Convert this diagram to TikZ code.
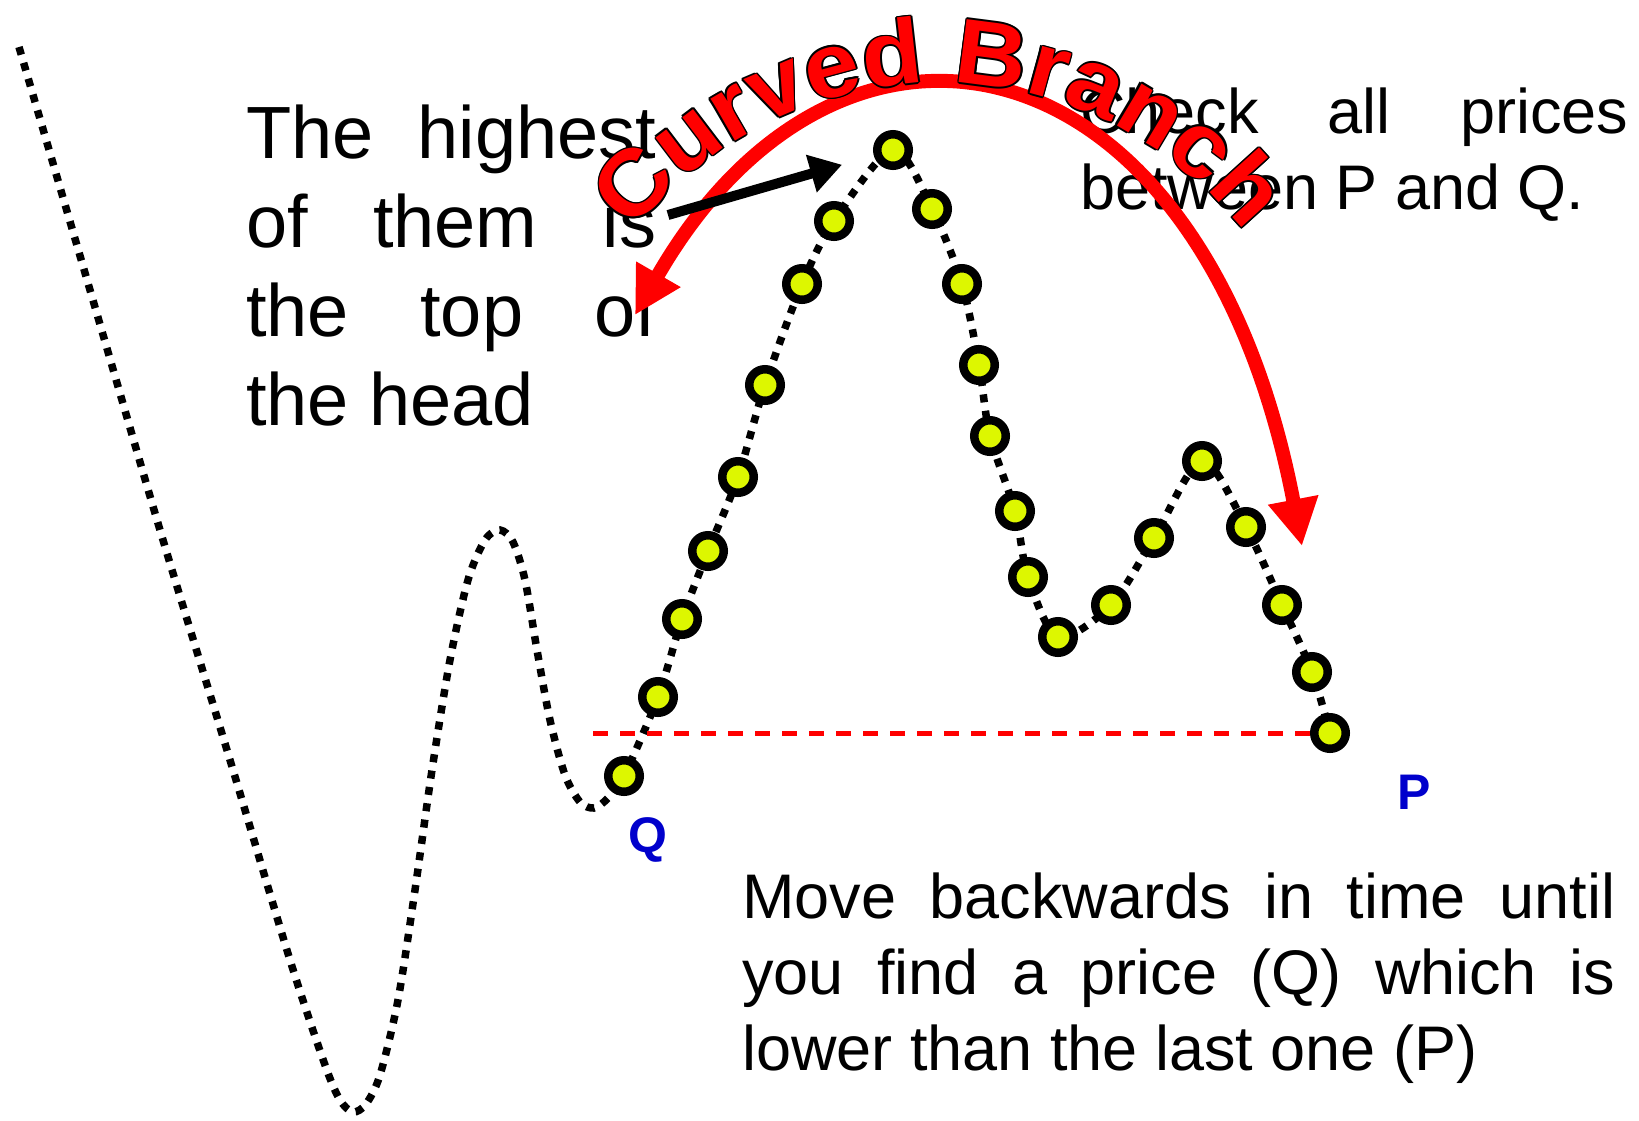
\documentclass[tikz,border=0pt]{standalone}
\usepackage{fontspec}
\setmainfont{Liberation Sans}
\newfontfamily\cbfont{Liberation Sans}[FakeStretch=1.07]
\usetikzlibrary{arrows.meta,decorations.text}
\definecolor{dotg}{RGB}{221,247,0}
\definecolor{qpb}{RGB}{0,0,204}

\begin{document}
\begin{tikzpicture}[x=1pt,y=-1pt,
  txt/.style={inner sep=0pt,anchor=north west,align=justify},
  lbl/.style={inner sep=0pt,text=qpb,font=\fontsize{50}{50}\selectfont\bfseries},
  dot/.style={circle,draw,line width=8.5pt,fill=dotg,minimum size=31.5pt,inner sep=0pt},
  trail/.style={line width=7.5pt,dash pattern=on 8pt off 8.5pt},
  lvl/.style={red,line width=5pt,dash pattern=on 15pt off 12pt},
  bigarr/.style={red,line width=14pt,{Triangle[length=47pt,width=48pt]}-{Triangle[length=47pt,width=48pt]}},
  ptr/.style={line width=10pt,-{Triangle[length=32pt,width=37pt]}},
  cbtxt/.style={decorate,decoration={text along path,text align=center,
    text={|\cbfont\bfseries\fontsize{92}{92}\selectfont\color{#1}|Curved Branch}}}]
  \useasboundingbox (0,0) rectangle (1639,1120);
  \node[txt,text width=410pt,font=\fontsize{74}{89}\selectfont] (head) at (246,105)
    {The highest\linebreak of them is\linebreak the top of\linebreak the head};
  \node[txt,text width=548pt,font=\fontsize{63}{76}\selectfont] (chk) at (1080,88)
    {Check all prices\linebreak between P and Q.};
  \node[txt,text width=873pt,font=\fontsize{63}{76}\selectfont] (move) at (742,873)
    {Move backwards in time until\linebreak you find a price (Q) which is\linebreak lower than the last one (P)};
  \foreach \n/\x/\y in {1/624/776,2/658/697,3/682/619,4/708/551,5/738/477,6/765/385,7/802/284,8/834/221,
    9/893/150,10/932/209,11/962/284,12/979/365,13/990/436,14/1015/511,15/1028/577,16/1058/637,
    17/1111/605,18/1154/538,19/1202/461,20/1246/527,21/1282/605,22/1312/672,23/1330/733}
    \coordinate (d\n) at (\x,\y);
  \draw[trail] plot[smooth,tension=0.5] coordinates {(19,47) (90,290) (160,530) (230,760) (290,960)
    (325,1065) (340,1100) (353,1112) (366,1104) (380,1075) (398,1000) (415,890) (432,770) (450,660)
    (468,580) (485,540) (500,530) (513,542) (525,580) (537,650) (550,720) (565,775) (580,802) (594,808)
    (608,798) (d1) (d2) (d3) (d4) (d5) (d6) (d7) (d8) (d9) (d10) (d11) (d12) (d13) (d14) (d15) (d16)
    (d17) (d18) (d19) (d20) (d21) (d22) (d23)};
  \coordinate (lv) at (593,733);
  \draw[lvl] (lv) -- (d23);
  \foreach \n in {1,...,23} \node[dot] (dt\n) at (d\n) {};
  \node[lbl] (qlbl) at (648,840) {Q};
  \node[lbl] (plbl) at (1414,792) {P};
  \coordinate (cbL) at (635,315); \coordinate (cbR) at (1302,546);
  \draw[bigarr] (cbL) .. controls (842,-45) and (1203,29) .. (cbR);
  \coordinate (ptail) at (668,215);
  \draw[ptr,shorten >=33pt] (ptail) -- (dt9);
  \foreach \a in {0,45,...,315}
    \path[cbtxt=black,shift={(\a:1.7pt)}] ([shift={(165:387pt)}]939,470) arc[start angle=165,end angle=15,radius=387pt];
  \path[cbtxt=red] ([shift={(165:387pt)}]939,470) arc[start angle=165,end angle=15,radius=387pt];
\end{tikzpicture}
\end{document}
